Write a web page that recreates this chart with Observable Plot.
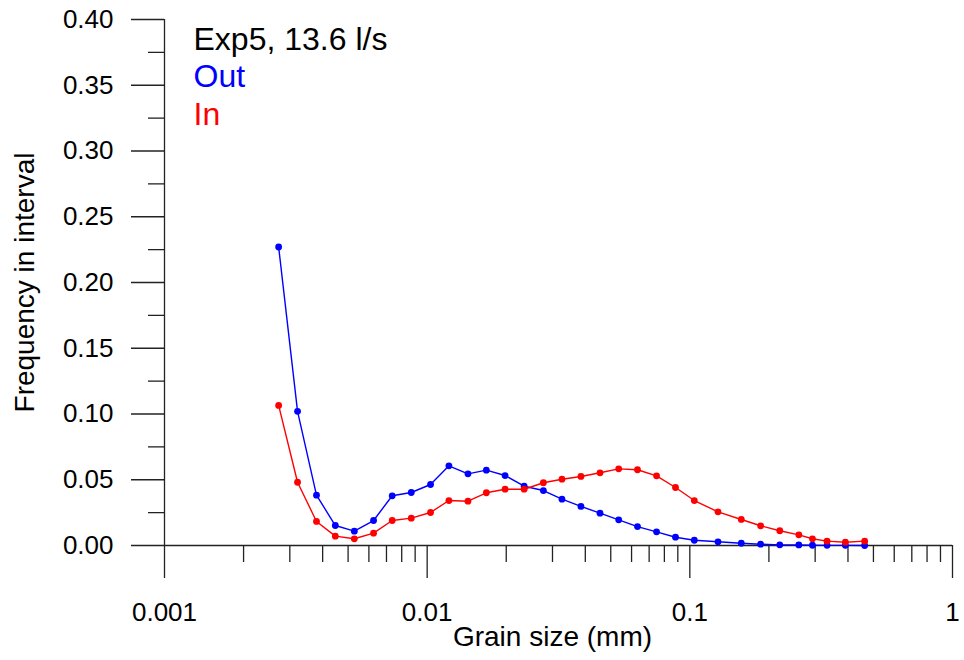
<!DOCTYPE html>
<html>
<head>
<meta charset="utf-8">
<script src="https://cdn.jsdelivr.net/npm/d3@7"></script>
<script src="https://cdn.jsdelivr.net/npm/@observablehq/plot@0.6"></script>
<style>
  html, body { margin: 0; padding: 0; background: #fff; }
</style>
</head>
<body>
<div id="chart"></div>
<script>
// Grain size (mm) of each interval
const grainSize = [0.00272, 0.00321, 0.00379, 0.00447, 0.00528, 0.00625, 0.00736, 0.00870, 0.0103, 0.0121, 0.0143, 0.0168, 0.0198, 0.0234, 0.0277, 0.0326, 0.0385, 0.0455, 0.0536, 0.0632, 0.0747, 0.0882, 0.104, 0.128, 0.157, 0.186, 0.220, 0.260, 0.293, 0.333, 0.391, 0.463];
// Frequency in interval, "Out" series (blue)
const freqOut = [0.227, 0.102, 0.0383, 0.0152, 0.0109, 0.0190, 0.0378, 0.0403, 0.0464, 0.0606, 0.0545, 0.0573, 0.0532, 0.0451, 0.0418, 0.0352, 0.0297, 0.0246, 0.0195, 0.0144, 0.0104, 0.0063, 0.0040, 0.0028, 0.0017, 0.0010, 0.0005, 0.0004, 0.0002, 0.0001, 0.0001, 0.0000];
// Frequency in interval, "In" series (red)
const freqIn = [0.1065, 0.0481, 0.0183, 0.0071, 0.0051, 0.0094, 0.0190, 0.0208, 0.0251, 0.0342, 0.0337, 0.0401, 0.0428, 0.0428, 0.0477, 0.0504, 0.0525, 0.0553, 0.0583, 0.0576, 0.0530, 0.0441, 0.0342, 0.0256, 0.0198, 0.0150, 0.0112, 0.0081, 0.0051, 0.0033, 0.0025, 0.0033];

const xMajorTicks = [0.001, 0.01, 0.1, 1];
const xMinorTicks = [2,3,4,5,6,7,8,9].flatMap(k => [k * 0.001, k * 0.01, k * 0.1]);
const yMajorTicks = [0, 0.05, 0.10, 0.15, 0.20, 0.25, 0.30, 0.35, 0.40];
const yMinorTicks = [0.025, 0.075, 0.125, 0.175, 0.225, 0.275, 0.325, 0.375];

const legendTexts = ["Exp5, 13.6 l/s", "Out", "In"];
const legendColors = ["#000000", "#0000ff", "#ff0000"];

const xTitle = "Grain size (mm)";
const yTitle = "Frequency in interval";

const outData = grainSize.map((g, i) => ({g, f: freqOut[i]}));
const inData = grainSize.map((g, i) => ({g, f: freqIn[i]}));
const legendDy = [20.5, 57.5, 95.5];

const axisColor = "#222";

const legendMarks = legendTexts.map((t, i) =>
  Plot.text([t], {
    frameAnchor: "top-left", text: d => d, fill: legendColors[i],
    textAnchor: "start", lineAnchor: "middle",
    dx: 29, dy: legendDy[i], fontSize: 32
  })
);

const chart = Plot.plot({
  width: 964,
  height: 660,
  marginLeft: 164,
  marginRight: 12,
  marginTop: 19,
  marginBottom: 115,
  style: {
    fontFamily: "'Liberation Sans', Arial, sans-serif",
    fontSize: "26px",
    color: "#000",
    background: "#fff",
    overflow: "visible"
  },
  x: {type: "log", domain: [0.001, 1]},
  y: {domain: [0, 0.4]},
  marks: [
    Plot.axisX({ticks: xMajorTicks, tickSize: 33, tickPadding: 24, tickFormat: d => String(d), label: null, stroke: axisColor, strokeWidth: 1.3, fontSize: 26}),
    Plot.axisX({ticks: xMinorTicks, tickSize: 17, tickFormat: () => "", label: null, stroke: axisColor, strokeWidth: 1.3}),
    Plot.axisY({ticks: yMajorTicks, tickSize: 33, tickPadding: 18, tickFormat: d3.format(".2f"), label: null, stroke: axisColor, strokeWidth: 1.3, fontSize: 26}),
    Plot.axisY({ticks: yMinorTicks, tickSize: 16, tickFormat: () => "", label: null, stroke: axisColor, strokeWidth: 1.3}),
    Plot.ruleY([0], {stroke: axisColor, strokeWidth: 1.3}),
    Plot.ruleX([0.001], {stroke: axisColor, strokeWidth: 1.3}),
    Plot.line(outData, {x: "g", y: "f", stroke: "#0000ff", strokeWidth: 1.4}),
    Plot.dot(outData, {x: "g", y: "f", fill: "#0000ff", r: 3.4}),
    Plot.line(inData, {x: "g", y: "f", stroke: "#ff0000", strokeWidth: 1.4}),
    Plot.dot(inData, {x: "g", y: "f", fill: "#ff0000", r: 3.4}),
    ...legendMarks,
    Plot.text([xTitle], {frameAnchor: "bottom", text: d => d, textAnchor: "middle", dx: -6, dy: 92, lineAnchor: "middle", fontSize: 28}),
    Plot.text([yTitle], {frameAnchor: "left", text: d => d, textAnchor: "middle", dx: -139, rotate: -90, lineAnchor: "middle", fontSize: 28})
  ]
});
document.getElementById("chart").appendChild(chart);
</script>
</body>
</html>
